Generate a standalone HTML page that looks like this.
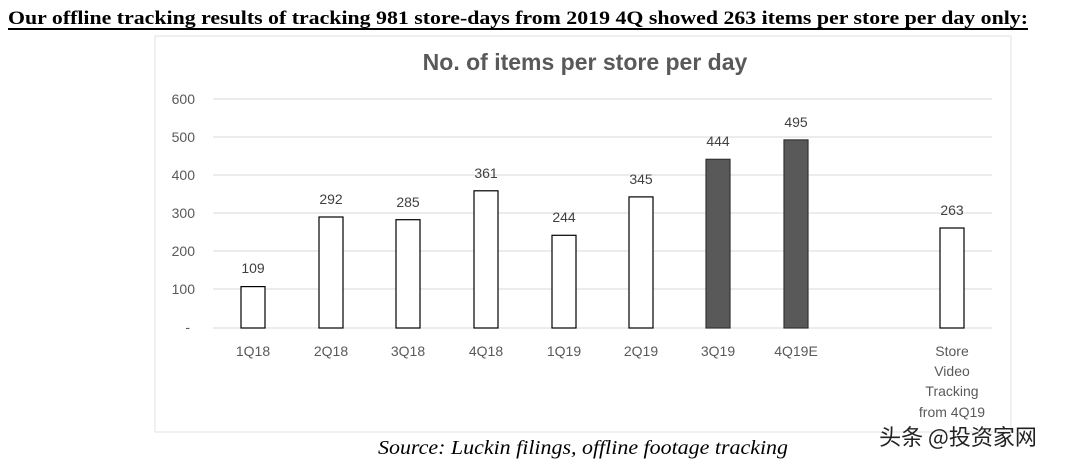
<!DOCTYPE html>
<html><head><meta charset="utf-8"><style>
body{margin:0;background:#fff;width:1080px;height:464px;overflow:hidden}
</style></head><body>
<svg width="1080" height="464" xmlns="http://www.w3.org/2000/svg" font-family="Liberation Sans, sans-serif">
<text x="8" y="24" font-family="Liberation Serif, serif" font-weight="bold" font-size="19" fill="#000" textLength="1020" lengthAdjust="spacingAndGlyphs">Our offline tracking results of tracking 981 store-days from 2019 4Q showed 263 items per store per day only:</text>
<line x1="8" y1="29" x2="1028" y2="29" stroke="#000" stroke-width="2"/>
<rect x="155" y="36" width="856" height="396" fill="#fff" stroke="#e2e2e2" stroke-width="1"/>
<text x="585" y="70" text-anchor="middle" font-size="23" font-weight="bold" fill="#595959">No. of items per store per day</text>
<g stroke="#d9d9d9" stroke-width="1">
<line x1="213" y1="99" x2="992" y2="99"/>
<line x1="213" y1="137" x2="992" y2="137"/>
<line x1="213" y1="175" x2="992" y2="175"/>
<line x1="213" y1="213" x2="992" y2="213"/>
<line x1="213" y1="251" x2="992" y2="251"/>
<line x1="213" y1="289" x2="992" y2="289"/>
<line x1="213" y1="328" x2="992" y2="328"/>
</g>
<g font-size="14" fill="#595959" text-anchor="end">
<text x="195" y="104">600</text><text x="195" y="142">500</text><text x="195" y="180">400</text>
<text x="195" y="218">300</text><text x="195" y="256">200</text><text x="195" y="294">100</text>
<text x="190" y="332">-</text>
</g>
<g stroke="#000" stroke-width="1.2" fill="#fff">
<rect x="241" y="286.6" width="24" height="41.4"/>
<rect x="319" y="217" width="24" height="111"/>
<rect x="396" y="219.7" width="24" height="108.3"/>
<rect x="474" y="190.8" width="24" height="137.2"/>
<rect x="552" y="235.3" width="24" height="92.7"/>
<rect x="629" y="196.9" width="24" height="131.1"/>
<rect x="706" y="159.3" width="24" height="168.7" fill="#595959" stroke="#333"/>
<rect x="784" y="139.9" width="24" height="188.1" fill="#595959" stroke="#333"/>
<rect x="940" y="228" width="24" height="100"/>
</g>
<g font-size="14" fill="#404040" text-anchor="middle">
<text x="253" y="273">109</text><text x="331" y="204">292</text><text x="408" y="207">285</text>
<text x="486" y="178">361</text><text x="564" y="222">244</text><text x="641" y="184">345</text>
<text x="718" y="146">444</text><text x="796" y="127">495</text><text x="952" y="215">263</text>
</g>
<g font-size="14" fill="#595959" text-anchor="middle">
<text x="253" y="356">1Q18</text><text x="331" y="356">2Q18</text><text x="408" y="356">3Q18</text>
<text x="486" y="356">4Q18</text><text x="564" y="356">1Q19</text><text x="641" y="356">2Q19</text>
<text x="718" y="356">3Q19</text><text x="796" y="356">4Q19E</text>
<text x="952" y="356">Store</text><text x="952" y="376">Video</text><text x="952" y="396">Tracking</text><text x="952" y="417">from 4Q19</text>
</g>
<text x="378" y="454" font-family="Liberation Serif, serif" font-style="italic" font-size="20" fill="#000" textLength="410" lengthAdjust="spacingAndGlyphs">Source: Luckin filings, offline footage tracking</text>
<text x="958" y="445" text-anchor="middle" font-family="Noto Sans CJK SC, sans-serif" font-size="22" fill="#222">头条 @投资家网</text>
</svg>
</body></html>
